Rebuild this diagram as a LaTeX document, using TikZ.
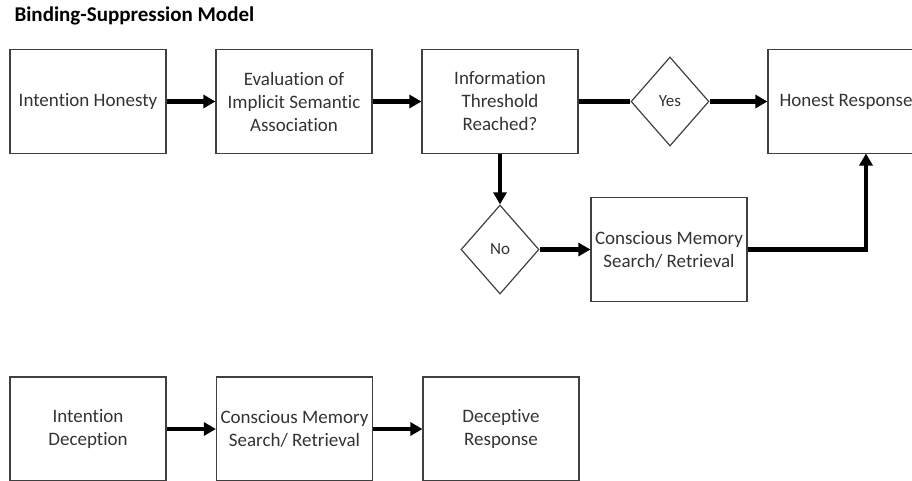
\documentclass[tikz,border=0pt]{standalone}
\usepackage{fontspec}
\setmainfont{Carlito}[Ligatures=NoCommon]
\usetikzlibrary{arrows.meta,shapes.geometric}
\begin{document}
\begin{tikzpicture}[x=1pt,y=-1pt,
  stepbox/.style={draw=black!75,line width=1.2pt,minimum width=156pt,minimum height=104pt,
    inner sep=0pt,align=center,text=black!80,font=\fontsize{19}{23}\selectfont},
  decision/.style={diamond,draw=black!75,line width=1.2pt,minimum width=78pt,minimum height=89pt,
    inner sep=0pt,text=black!80,font=\fontsize{17}{19}\selectfont},
  flow/.style={line width=4.5pt,-{Triangle[length=12pt,width=13pt]}},
  link/.style={line width=4.5pt}]
\useasboundingbox (0,0) rectangle (912,480);
\clip (0,0) rectangle (912,480);
\node[anchor=west,font=\bfseries\fontsize{21}{24}\selectfont,text=black] (title) at (11,16) {Binding-Suppression Model};
% honest path
\node[stepbox] (ih) at (88,101.5) {Intention Honesty};
\node[stepbox] (eval) at (294,101.5) {Evaluation of\\Implicit Semantic\\Association};
\node[stepbox] (info) at (500,101.5) {Information\\Threshold\\Reached?};
\node[decision] (yes) at (670,101.5) {Yes};
\node[stepbox] (hr) at (846,101.5) {Honest Response};
\node[decision] (no) at (500,249.5) {No};
\node[stepbox] (mem) at (669,249.5) {Conscious Memory\\Search/ Retrieval};
\coordinate (up) at (866,153.5);
\draw[flow] (ih) -- (eval);
\draw[flow] (eval) -- (info);
\draw[link] (info.east) -- (yes.west);
\draw[flow] (yes.east) -- (hr.west);
\draw[flow] (info.south) -- (no.north);
\draw[flow] (no.east) -- (mem.west);
\draw[flow] (mem.east) -| (up);
% deceptive path
\node[stepbox] (id) at (88,429) {Intention\\Deception};
\node[stepbox] (mem2) at (294.5,429) {Conscious Memory\\Search/ Retrieval};
\node[stepbox] (dr) at (501,429) {Deceptive\\Response};
\draw[flow] (id) -- (mem2);
\draw[flow] (mem2) -- (dr);
\end{tikzpicture}
\end{document}
